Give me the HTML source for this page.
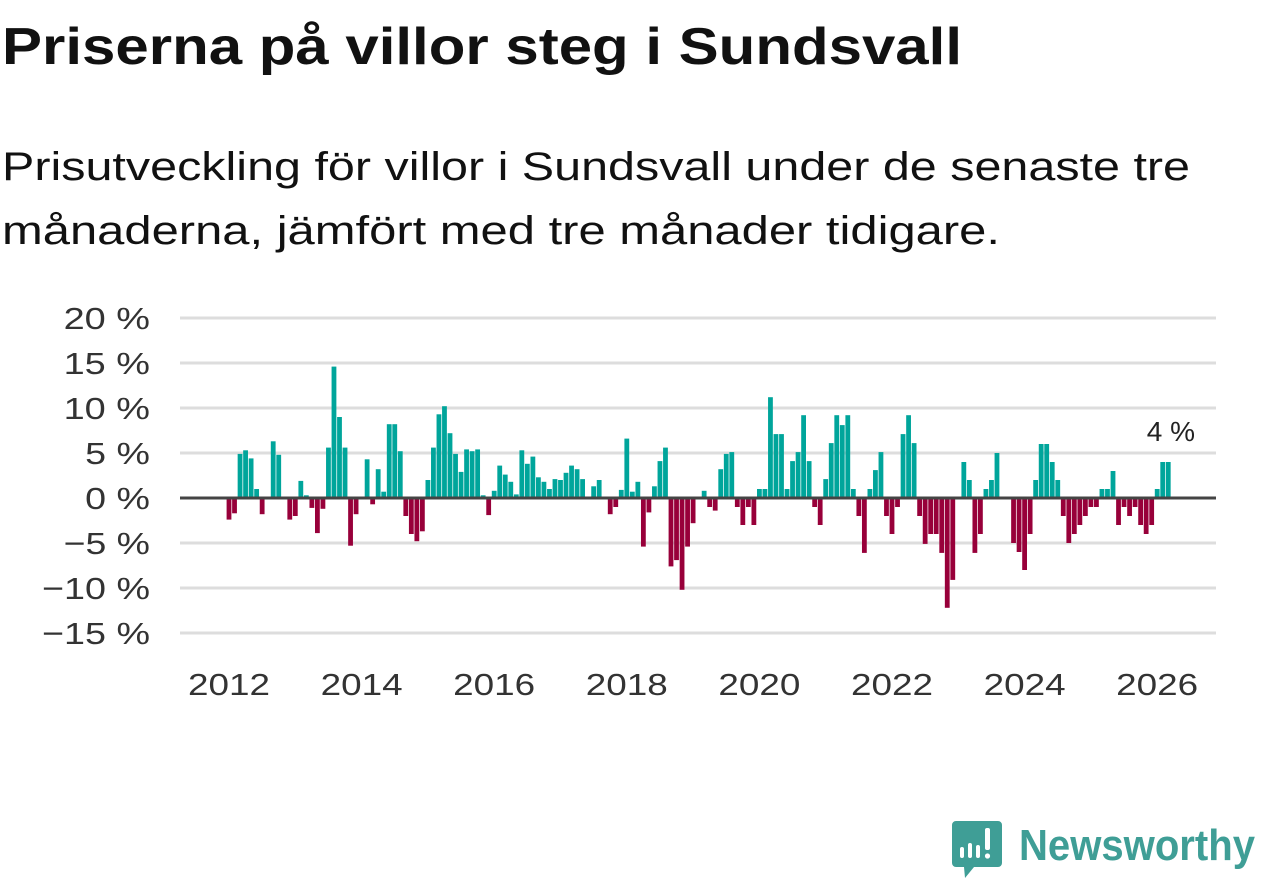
<!DOCTYPE html>
<html><head><meta charset="utf-8">
<style>
html,body{margin:0;padding:0;background:#fff;}
body{width:1262px;height:879px;overflow:hidden;position:relative;font-family:"Liberation Sans","DejaVu Sans",sans-serif;}
</style></head>
<body>
<svg width="1262" height="879" xmlns="http://www.w3.org/2000/svg">
<text x="2" y="64" font-size="52" font-weight="bold" fill="#111" textLength="960" lengthAdjust="spacingAndGlyphs" font-family="Liberation Sans, DejaVu Sans, sans-serif">Priserna på villor steg i Sundsvall</text>
<text x="2" y="180" font-size="40" fill="#111" textLength="1188" lengthAdjust="spacingAndGlyphs" font-family="Liberation Sans, DejaVu Sans, sans-serif">Prisutveckling för villor i Sundsvall under de senaste tre</text>
<text x="2" y="244" font-size="40" fill="#111" textLength="998" lengthAdjust="spacingAndGlyphs" font-family="Liberation Sans, DejaVu Sans, sans-serif">månaderna, jämfört med tre månader tidigare.</text>
<g id="grid"></g>
<g id="yticks"></g>
<g id="bars"></g>
<g id="xticks"></g>
<text x="1195" y="441" text-anchor="end" font-size="28" fill="#222" font-family="Liberation Sans, DejaVu Sans, sans-serif">4 %</text>
<g>
<path d="M956 821 h42 a4 4 0 0 1 4 4 v38 a4 4 0 0 1 -4 4 h-24 l-9 11 l-1 -11 h-8 a4 4 0 0 1 -4 -4 v-38 a4 4 0 0 1 4 -4z" fill="#3f9e96"/>
<rect x="960" y="847" width="4" height="11" rx="2" fill="#fff"/>
<rect x="968" y="843" width="4" height="15" rx="2" fill="#fff"/>
<rect x="976" y="845" width="4" height="13" rx="2" fill="#fff"/>
<rect x="985" y="828" width="5" height="22" rx="2" fill="#fff"/>
<circle cx="987.5" cy="856" r="2.6" fill="#fff"/>
<text x="1019" y="860" font-size="44" font-weight="bold" fill="#3f9e96" textLength="236" lengthAdjust="spacingAndGlyphs" font-family="Liberation Sans, DejaVu Sans, sans-serif">Newsworthy</text>
</g>
</svg>
<script>
const startYear = 2012;
const values = [
-2.4,-1.7,4.9,5.3,4.4,1.0,-1.8,0,6.3,4.8,0,-2.4,
-2.0,1.9,0.3,-1.1,-3.9,-1.2,5.6,14.6,9.0,5.6,-5.3,-1.8,
0,4.3,-0.7,3.2,0.7,8.2,8.2,5.2,-2.0,-4.0,-4.8,-3.7,
2.0,5.6,9.3,10.2,7.2,4.9,2.9,5.4,5.2,5.4,0.3,-1.9,
0.8,3.6,2.6,1.8,0.4,5.3,3.8,4.6,2.3,1.8,1.0,2.1,
2.0,2.8,3.6,3.2,2.1,0,1.3,2.0,0,-1.8,-1.0,0.9,
6.6,0.7,1.8,-5.4,-1.6,1.3,4.1,5.6,-7.6,-6.9,-10.2,-5.4,
-2.8,0,0.8,-1.0,-1.4,3.2,4.9,5.1,-1.0,-3.0,-1.0,-3.0,
1.0,1.0,11.2,7.1,7.1,1.0,4.1,5.1,9.2,4.1,-1.0,-3.0,
2.1,6.1,9.2,8.1,9.2,1.0,-2.0,-6.1,1.0,3.1,5.1,-2.0,
-4.0,-1.0,7.1,9.2,6.1,-2.0,-5.1,-4.0,-4.0,-6.1,-12.2,-9.1,
0,4.0,2.0,-6.1,-4.0,1.0,2.0,5.0,0,0,-5.0,-6.0,
-8.0,-4.0,2.0,6.0,6.0,4.0,2.0,-2.0,-5.0,-4.0,-3.0,-2.0,
-1.0,-1.0,1.0,1.0,3.0,-3.0,-1.0,-2.0,-1.0,-3.0,-4.0,-3.0,
1.0,4.0,4.0
];
const yTicks = [20,15,10,5,0,-5,-10,-15];
const yTickLabels = ["20 %","15 %","10 %","5 %","0 %","−5 %","−10 %","−15 %"];
const xTicks = [2012,2014,2016,2018,2020,2022,2024,2026];

const NS = "http://www.w3.org/2000/svg";
const X0 = 229, PER_YEAR = 66.3;
function xScale(monthIndex){ return X0 + monthIndex * PER_YEAR / 12; }
function yScale(v){ return 498 - v * 9; }
function mk(tag, attrs, parent){ const e=document.createElementNS(NS,tag); for(const k in attrs) e.setAttribute(k,attrs[k]); parent.appendChild(e); return e; }

const grid=document.getElementById('grid'), yt=document.getElementById('yticks');
yTicks.forEach((t,i)=>{
  if(t!==0){
    const l=mk('line',{x1:180,x2:1216,y1:yScale(t),y2:yScale(t),stroke:'#dddddd','stroke-width':3},grid);
    
    
  }
  const lbl=yTickLabels[i];
  const tx=mk('text',{x:150,y:yScale(t)+11,'text-anchor':'end','font-size':31,fill:'#333','font-family':'Liberation Sans, DejaVu Sans, sans-serif',textLength:lbl.length*21.6,lengthAdjust:'spacingAndGlyphs'},yt);
  tx.textContent=lbl;
  
  
});
const bars=document.getElementById('bars');
values.forEach((v,i)=>{
  if(v===0) return;
  const x=xScale(i), y0=yScale(0), y1=yScale(v);
  const r=mk('rect',{x:x-2.4,width:4.8,y:Math.min(y0,y1),height:Math.abs(y1-y0),fill:v>0?'#00a59b':'#98003a'},bars);
  
  
});
const zl=mk('line',{x1:180,x2:1216,y1:yScale(0),y2:yScale(0),stroke:'#444','stroke-width':3},bars);


const xt=document.getElementById('xticks');
xTicks.forEach(yr=>{
  const x=xScale((yr-startYear)*12);
  const tx=mk('text',{x:x,y:695,'text-anchor':'middle','font-size':31,fill:'#333','font-family':'Liberation Sans, DejaVu Sans, sans-serif',textLength:82,lengthAdjust:'spacingAndGlyphs'},xt);
  tx.textContent=yr;
  
  
});
</script>
</body></html>
